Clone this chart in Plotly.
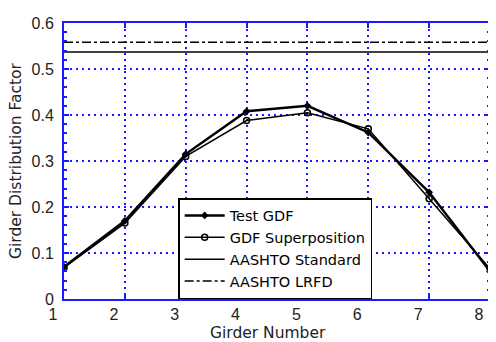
import plotly.graph_objects as go

girders = [1, 2, 3, 4, 5, 6, 7, 8]
test_gdf = [0.070, 0.170, 0.315, 0.408, 0.420, 0.362, 0.232, 0.060]
gdf_superposition = [0.068, 0.165, 0.310, 0.388, 0.405, 0.370, 0.218, 0.066]
aashto_standard = 0.537
aashto_lrfd = 0.558
x_ticks = [1, 2, 3, 4, 5, 6, 7, 8]
y_ticks = [0, 0.1, 0.2, 0.3, 0.4, 0.5, 0.6]

BLUE = "#1a1aff"
FONT = "Liberation Sans, Arial, sans-serif"
TITLE_FONT = "DejaVu Sans, sans-serif"

fig = go.Figure()
fig.add_trace(go.Scatter(x=girders, y=test_gdf, mode="lines+markers", name="Test GDF",
                         line=dict(color="black", width=2.5),
                         marker=dict(symbol="diamond", size=6, color="black")))
fig.add_trace(go.Scatter(x=girders, y=gdf_superposition, mode="lines+markers", name="GDF Superposition",
                         line=dict(color="black", width=1.5),
                         marker=dict(symbol="circle-open", size=6, color="black", line=dict(width=1.5))))
fig.add_trace(go.Scatter(x=[1, 8], y=[aashto_standard, aashto_standard], mode="lines", name="AASHTO Standard",
                         line=dict(color="black", width=1.5)))
fig.add_trace(go.Scatter(x=[1, 8], y=[aashto_lrfd, aashto_lrfd], mode="lines", name="AASHTO LRFD",
                         line=dict(color="black", width=1.5, dash="dashdot")))

# the page body adds an 8px offset, so the figure is sized 8px smaller
fig.update_layout(
    width=488, height=334,
    margin=dict(l=56, r=6, t=15, b=43),
    paper_bgcolor="white", plot_bgcolor="white",
    font=dict(family=FONT, size=16, color="#222"),
    showlegend=True,
    legend=dict(x=0.268, y=0.0, xanchor="left", yanchor="bottom",
                bgcolor="white", bordercolor="black", borderwidth=1.5,
                font=dict(family=TITLE_FONT, size=14.5, color="black"),
                tracegroupgap=0, itemwidth=40),
    xaxis=dict(
        range=[1, 8], tickvals=x_ticks,
        ticks="inside", ticklen=5, tickcolor=BLUE, tickwidth=1.5,
        showline=True, linecolor=BLUE, linewidth=2, mirror="ticks",
        showgrid=True, gridcolor=BLUE, griddash="2px,4px", gridwidth=1.5, zeroline=False,
        ticklabelshift=-11, ticklabeloverflow="allow", automargin=False,
    ),
    yaxis=dict(
        range=[0, 0.6], tickvals=y_ticks, ticktext=["0", "0.1", "0.2", "0.3", "0.4", "0.5", "0.6"],
        ticks="inside", ticklen=5, tickcolor=BLUE, tickwidth=1.5,
        showline=True, linecolor=BLUE, linewidth=2, mirror="ticks",
        showgrid=True, gridcolor=BLUE, griddash="2px,4px", gridwidth=1.5, zeroline=False,
        ticklabelstandoff=5, automargin=False,
        minor=dict(ticks="inside", ticklen=3, tickcolor=BLUE, dtick=0.02, showgrid=False),
    ),
    annotations=[
        dict(text="Girder Number", xref="paper", yref="paper", x=0.5, y=0,
             xanchor="center", yanchor="middle", xshift=-9, yshift=-34, showarrow=False,
             font=dict(family=TITLE_FONT, size=15.5, color="#222")),
        dict(text="Girder Distribution Factor", xref="paper", yref="paper", x=0, y=0.5,
             xanchor="center", yanchor="middle", xshift=-48, textangle=-90, showarrow=False,
             font=dict(family=TITLE_FONT, size=15.5, color="#222")),
    ],
)

fig.write_html("out.html")
